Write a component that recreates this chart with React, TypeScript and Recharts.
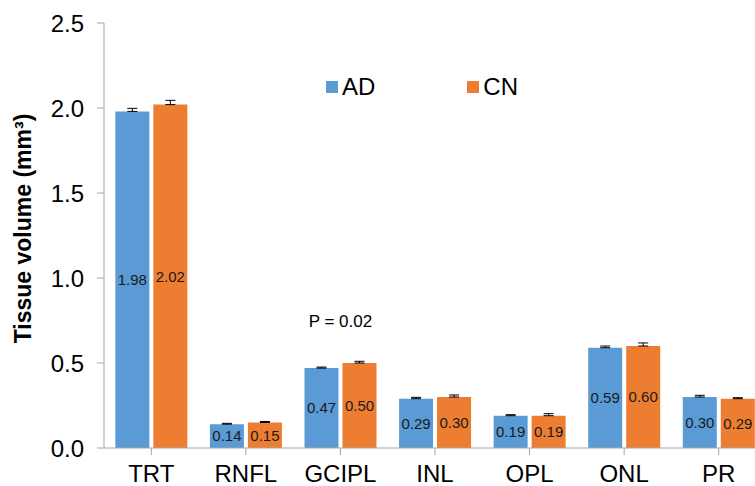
import { BarChart, Bar, XAxis, YAxis, ErrorBar, LabelList, ReferenceDot } from "recharts";

const layers = ["TRT", "RNFL", "GCIPL", "INL", "OPL", "ONL", "PR"];
const adValues = [1.98, 0.14, 0.47, 0.29, 0.19, 0.59, 0.3];
const cnValues = [2.02, 0.15, 0.5, 0.3, 0.19, 0.6, 0.29];
const adErr = [0.018, 0.005, 0.006, 0.008, 0.006, 0.01, 0.01];
const cnErr = [0.025, 0.006, 0.01, 0.012, 0.012, 0.018, 0.006];
const yTicks = [0, 0.5, 1, 1.5, 2, 2.5];

const data = layers.map((name, i) => ({
  name,
  AD: adValues[i],
  CN: cnValues[i],
  adErr: [0, adErr[i]],
  cnErr: [0, cnErr[i]],
}));

const BLUE = "#5B9BD5";
const ORANGE = "#ED7D31";
const AXIS = "#A6A6A6";
const FONT = "'Liberation Sans', Arial, sans-serif";

const series = [
  { key: "AD", color: BLUE },
  { key: "CN", color: ORANGE },
];

// legend sits over the plot, so keep it out of recharts' layout
function LegendBox() {
  return (
    <div style={{ position: "absolute", top: 72, left: 326, display: "flex", fontFamily: FONT, fontSize: 24, color: "#000", lineHeight: "30px" }}>
      {series.map((s, i) => (
        <div key={s.key} style={{ display: "flex", alignItems: "center", marginRight: i === 0 ? 92 : 0 }}>
          <span style={{ width: 12, height: 12, background: s.color, marginRight: 4, display: "inline-block" }} />
          <span>{s.key}</span>
        </div>
      ))}
    </div>
  );
}

function YTitle(props: any) {
  const vb = props.viewBox || { x: 0, y: 0, height: 0 };
  const cx = vb.x + 23;
  const cy = vb.y + vb.height / 2 - 7;
  return (
    <text x={cx} y={cy} transform={`rotate(-90, ${cx}, ${cy})`} textAnchor="middle" dominantBaseline="central"
      style={{ fontFamily: FONT, fontSize: 23, fontWeight: "bold", fill: "#000" }}>
      Tissue volume (mm³)
    </text>
  );
}

const fmt = (v: any) => Number(v).toFixed(2);

export default function App() {
  return (
    <div style={{ position: "fixed", top: 0, left: 0, width: 755, height: 486, overflow: "hidden", background: "#fff" }}>
      <BarChart width={770} height={486} data={data} margin={{ top: 23, right: 4, left: 0, bottom: 0 }}
        barGap={4} barCategoryGap="12%">
        <XAxis dataKey="name" height={38} stroke={AXIS} tickSize={7} tickMargin={10}
          tick={{ fontSize: 24, fill: "#000", fontFamily: FONT }} />
        <YAxis width={104} domain={[0, 2.5]} ticks={yTicks} stroke={AXIS} tickSize={7} tickMargin={13}
          tickFormatter={(v) => Number(v).toFixed(1)}
          tick={{ fontSize: 24, fill: "#000", fontFamily: FONT }}
          label={<YTitle />} />
        <Bar dataKey="AD" fill={BLUE} isAnimationActive={false}>
          <ErrorBar dataKey="adErr" width={5} stroke="#000" strokeWidth={1} direction="y" />
          <LabelList dataKey="AD" position="center" formatter={fmt}
            style={{ fontSize: 15, fill: "#1a1a1a", fontFamily: FONT }} />
        </Bar>
        <Bar dataKey="CN" fill={ORANGE} isAnimationActive={false}>
          <ErrorBar dataKey="cnErr" width={5} stroke="#000" strokeWidth={1} direction="y" />
          <LabelList dataKey="CN" position="center" formatter={fmt}
            style={{ fontSize: 15, fill: "#1a1a1a", fontFamily: FONT }} />
        </Bar>
        <ReferenceDot x="GCIPL" y={0.75} r={0} fill="none" stroke="none"
          label={{ value: "P = 0.02", position: "center", fontSize: 17, fill: "#000", fontFamily: FONT }} />
      </BarChart>
      <LegendBox />
    </div>
  );
}
